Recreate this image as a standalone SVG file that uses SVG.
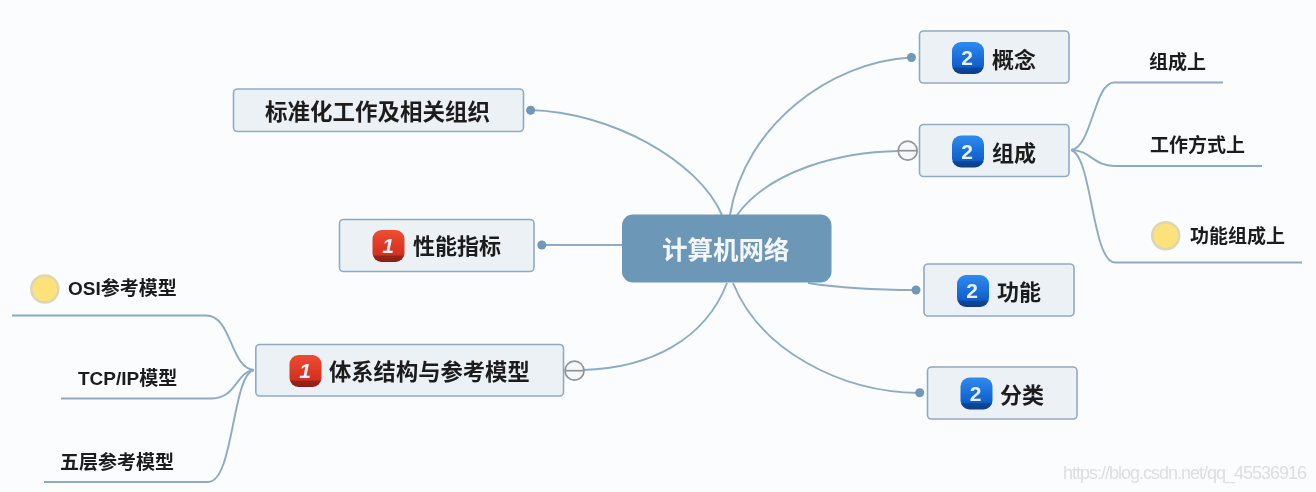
<svg xmlns="http://www.w3.org/2000/svg" xmlns:xlink="http://www.w3.org/1999/xlink" width="1316" height="492" viewBox="0 0 1316 492">
<style>
text{font-family:"Noto Sans CJK SC","Liberation Sans",sans-serif;fill:#1d1d1d;font-weight:700}
.box{fill:#ecf1f6;stroke:#8fabc4;stroke-width:1.6}
.t{font-size:22px}
.s{font-size:19px}
.lat{font-family:"Liberation Sans","Noto Sans CJK SC",sans-serif}
.c{fill:none;stroke:#8fabc3;stroke-width:1.9}
.dot{fill:#6f98b6}
.tog{fill:#f6f7f8;stroke:#8f9598;stroke-width:1.7}
.togl{stroke:#8f9598;stroke-width:1.7}
.yel{fill:#fde27c;stroke:#dcd6b4;stroke-width:2.5}
.num{font-family:"Liberation Sans",sans-serif;font-size:21px;fill:#e8f1fb;text-anchor:middle;font-weight:700}
.wm{font-family:"Liberation Sans",sans-serif;font-size:18px;fill:#dcdee1;font-weight:400}
</style>
<defs>
<linearGradient id="bg" x1="0" y1="0" x2="0" y2="1"><stop offset="0" stop-color="#2f8bf0"/><stop offset=".78" stop-color="#0f5ecb"/><stop offset=".82" stop-color="#0a4796"/><stop offset="1" stop-color="#0a3f86"/></linearGradient>
<linearGradient id="rg" x1="0" y1="0" x2="0" y2="1"><stop offset="0" stop-color="#ee4c33"/><stop offset=".78" stop-color="#d42f20"/><stop offset=".82" stop-color="#98211a"/><stop offset="1" stop-color="#8a1f18"/></linearGradient>
<filter id="soft" x="-2%" y="-2%" width="104%" height="104%"><feGaussianBlur stdDeviation="0.5"/></filter>
</defs>
<rect width="1316" height="492" fill="#fbfcfd"/>
<g filter="url(#soft)">
<g id="connectors">
<path class="c" d="M530 110C610 112 698 160 722 215"/>
<path class="c" d="M911 57.500C830 62 745 125 730 215"/>
<path class="c" d="M899 151C840 152 770 170 737 215"/>
<path class="c" d="M542 245H622"/>
<path class="c" d="M808 283C840 288 880 290 916 290"/>
<path class="c" d="M733 283C760 350 840 392 919 393"/>
<path class="c" d="M583 370C650 368 705 340 727 283"/>
<path class="c" d="M1071 150C1092 148 1094 82.500 1114 82.500H1223"/>
<path class="c" d="M1071 150C1090 150 1094 166 1114 166H1262"/>
<path class="c" d="M1071 150C1092 155 1092 262.500 1115 262.500H1302"/>
<path class="c" d="M254 370C230 368 232 315.500 206 315.500H12"/>
<path class="c" d="M254 370C236 372 236 398.500 212 398.500H61"/>
<path class="c" d="M254 370C232 374 234 482 208 482H44"/>
</g>
<g id="root"><rect x="622" y="214.500" width="209.500" height="68" rx="11" fill="#6d97b6"/><text x="662" y="259" style="font-size:25.500px;fill:#f3f6f9">计算机网络</text></g>
<g id="gainian"><rect class="box" x="919.500" y="31" width="149.500" height="52" rx="4"/><circle class="dot" cx="911.500" cy="57.500" r="4.500"/><rect x="952" y="42" width="32" height="32" rx="9" fill="url(#bg)"/><text class="num" x="967" y="65">2</text><text class="t" x="992" y="68">概念</text></g>
<g id="zucheng"><rect class="box" x="919.500" y="124.500" width="149.500" height="52" rx="4"/><circle class="tog" cx="907.700" cy="150.700" r="9.500"/><path class="togl" d="M898.500 150.700H917"/><rect x="952" y="135.500" width="32" height="32" rx="9" fill="url(#bg)"/><text class="num" x="967" y="158.500">2</text><text class="t" x="992" y="161">组成</text></g>
<g id="gongneng"><rect class="box" x="924" y="264" width="150" height="52" rx="4"/><circle class="dot" cx="916" cy="290" r="4.500"/><rect x="957" y="275" width="32" height="32" rx="9" fill="url(#bg)"/><text class="num" x="972" y="298">2</text><text class="t" x="997" y="300">功能</text></g>
<g id="fenlei"><rect class="box" x="927.500" y="367" width="149.500" height="52" rx="4"/><circle class="dot" cx="919.700" cy="392.700" r="4.500"/><rect x="960.500" y="377.500" width="32" height="32" rx="9" fill="url(#bg)"/><text class="num" x="975.500" y="400.500">2</text><text class="t" x="1000" y="402.500">分类</text></g>
<g id="biaozhun"><rect class="box" x="233.500" y="89" width="290" height="42.500" rx="4"/><circle class="dot" cx="530.600" cy="110.300" r="4.500"/><text class="t" x="265" y="119.500" style="font-size:22.500px">标准化工作及相关组织</text></g>
<g id="xingneng"><rect class="box" x="339.500" y="219.500" width="194.500" height="52" rx="4"/><circle class="dot" cx="541.800" cy="245" r="4.500"/><rect x="372.500" y="230" width="32" height="32" rx="9" fill="url(#rg)"/><text class="num" x="388" y="252.500" style="font-style:italic">1</text><text class="t" x="413" y="254">性能指标</text></g>
<g id="tixi"><rect class="box" x="255.800" y="344.500" width="307.700" height="51.500" rx="4"/><circle class="tog" cx="574.500" cy="370.700" r="9.500"/><path class="togl" d="M565.500 370.700H584"/><rect x="289.500" y="355" width="32" height="32" rx="9" fill="url(#rg)"/><text class="num" x="305" y="378" style="font-style:italic">1</text><text class="t" x="329" y="379.500" style="font-size:22.300px">体系结构与参考模型</text></g>
<g id="zc1"><text class="s" x="1149" y="68.500">组成上</text></g>
<g id="zc2"><text class="s" x="1150" y="152">工作方式上</text></g>
<g id="zc3"><circle class="yel" cx="1165.700" cy="235.700" r="13.500"/><text class="s" x="1190" y="242.500">功能组成上</text></g>
<g id="tx1"><circle class="yel" cx="44.800" cy="289" r="13.500"/><text class="s lat" x="68" y="295">OSI参考模型</text></g>
<g id="tx2"><text class="s lat" x="78" y="384.500">TCP/IP模型</text></g>
<g id="tx3"><text class="s" x="60" y="468.500">五层参考模型</text></g>
<text class="wm" x="1063" y="479" textLength="244">https://blog.csdn.net/qq_45536916</text>
</g>
</svg>
